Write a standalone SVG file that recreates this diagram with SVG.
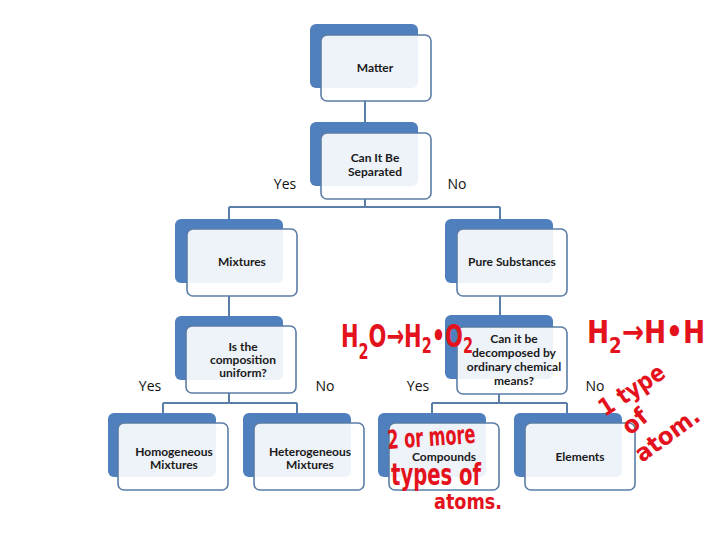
<svg xmlns="http://www.w3.org/2000/svg" width="720" height="540" viewBox="0 0 720 540">
<style>
  .back{fill:#4f7fbd;}
  .front{fill:#ffffff;fill-opacity:0.9;stroke:#5b7da6;stroke-width:1.6;}
  .lbl{font-family:Lato,"Open Sans","Liberation Sans",sans-serif;font-size:12px;font-weight:bold;fill:#1a1a1a;text-anchor:middle;}
  .yn{font-family:"Open Sans",Lato,"Liberation Sans",sans-serif;font-size:14px;fill:#111;text-anchor:middle;}
  .conn{stroke:#5b7ea8;stroke-width:2;fill:none;}
  .hw{font-family:"DejaVu Sans Condensed","DejaVu Sans",sans-serif;font-weight:bold;fill:#e3121c;}
</style>
<rect width="720" height="540" fill="#ffffff"/>

<g id="connectors">
  <path class="conn" d="M365 101 V122"/>
  <path class="conn" d="M365 199 V207 M229 207 H500 M229 207 V219 M500 207 V219"/>
  <path class="conn" d="M229 296 V316"/>
  <path class="conn" d="M500 296 V315"/>
  <path class="conn" d="M229 393 V403 M163 403 H297 M163 403 V413 M297 403 V413"/>
  <path class="conn" d="M499 394 V403 M432 403 H567 M432 403 V413 M567 403 V413"/>
</g>

<g id="matter">
  <rect class="back" x="310" y="24" width="108" height="64" rx="6"/>
  <rect class="front" x="321" y="35" width="110" height="66" rx="6"/>
  <text class="lbl" x="375" y="72">Matter</text>
</g>
<g id="separated">
  <rect class="back" x="310" y="122" width="108" height="64" rx="6"/>
  <rect class="front" x="321" y="133" width="110" height="66" rx="6"/>
  <text class="lbl" x="375" y="162">Can It Be</text>
  <text class="lbl" x="375" y="176">Separated</text>
</g>
<g id="mixtures">
  <rect class="back" x="175" y="219" width="108" height="64" rx="6"/>
  <rect class="front" x="187" y="229" width="110" height="67" rx="6"/>
  <text class="lbl" x="242" y="266">Mixtures</text>
</g>
<g id="pure">
  <rect class="back" x="445" y="219" width="108" height="64" rx="6"/>
  <rect class="front" x="457" y="229" width="110" height="67" rx="6"/>
  <text class="lbl" x="512" y="266">Pure Substances</text>
</g>
<g id="uniform">
  <rect class="back" x="175" y="316" width="108" height="64" rx="6"/>
  <rect class="front" x="186" y="326" width="110" height="67" rx="6"/>
  <text class="lbl" x="243" y="351">Is the</text>
  <text class="lbl" x="243" y="364">composition</text>
  <text class="lbl" x="243" y="377">uniform?</text>
</g>
<g id="decomposed">
  <rect class="back" x="445" y="315" width="108" height="64" rx="6"/>
  <rect class="front" x="457" y="327" width="110" height="67" rx="6"/>
  <text class="lbl" x="514" y="343">Can it be</text>
  <text class="lbl" x="514" y="357">decomposed by</text>
  <text class="lbl" x="514" y="371">ordinary chemical</text>
  <text class="lbl" x="514" y="385">means?</text>
</g>
<g id="homogeneous">
  <rect class="back" x="108" y="413" width="108" height="64" rx="6"/>
  <rect class="front" x="118" y="423" width="110" height="67" rx="6"/>
  <text class="lbl" x="174" y="456">Homogeneous</text>
  <text class="lbl" x="174" y="469">Mixtures</text>
</g>
<g id="heterogeneous">
  <rect class="back" x="243" y="413" width="108" height="64" rx="6"/>
  <rect class="front" x="254" y="423" width="110" height="67" rx="6"/>
  <text class="lbl" x="310" y="456">Heterogeneous</text>
  <text class="lbl" x="310" y="469">Mixtures</text>
</g>
<g id="compounds">
  <rect class="back" x="378" y="413" width="108" height="64" rx="6"/>
  <rect class="front" x="389" y="423" width="110" height="67" rx="6"/>
  <text class="lbl" x="444" y="461">Compounds</text>
</g>
<g id="elements">
  <rect class="back" x="514" y="413" width="108" height="64" rx="6"/>
  <rect class="front" x="525" y="423" width="110" height="67" rx="6"/>
  <text class="lbl" x="580" y="461">Elements</text>
</g>

<g id="branch-labels">
  <text class="yn" x="285" y="189">Yes</text>
  <text class="yn" x="457" y="189">No</text>
  <text class="yn" x="150" y="391">Yes</text>
  <text class="yn" x="325" y="391">No</text>
  <text class="yn" x="418" y="391">Yes</text>
  <text class="yn" x="595" y="391">No</text>
</g>

<g id="annotations">
  <text class="hw" x="341" y="347" font-size="32" textLength="132" lengthAdjust="spacingAndGlyphs">H<tspan font-size="22" dy="12">2</tspan><tspan dy="-12">O→H</tspan><tspan font-size="22" dy="6">2</tspan><tspan dy="-6">•O</tspan><tspan font-size="22" dy="6">2</tspan></text>
  <text class="hw" x="587" y="343" font-size="32" textLength="118" lengthAdjust="spacingAndGlyphs">H<tspan font-size="22" dy="10">2</tspan><tspan dy="-10">→H•H</tspan></text>
  <text class="hw" x="388" y="449" font-size="26" textLength="88" lengthAdjust="spacingAndGlyphs" transform="rotate(-4 388 449)">2 or more</text>
  <text class="hw" x="391" y="485" font-size="30" textLength="90" lengthAdjust="spacingAndGlyphs">types of</text>
  <text class="hw" x="434" y="509" font-size="22" textLength="68" lengthAdjust="spacingAndGlyphs">atoms.</text>
  <text class="hw" x="605" y="417" font-size="24" textLength="74" lengthAdjust="spacingAndGlyphs" transform="rotate(-33 605 417)">1 type</text>
  <text class="hw" x="630" y="436" font-size="24" textLength="26" lengthAdjust="spacingAndGlyphs" transform="rotate(-40 630 436)">of</text>
  <text class="hw" x="642" y="463" font-size="24" textLength="74" lengthAdjust="spacingAndGlyphs" transform="rotate(-36 642 463)">atom.</text>
</g>
</svg>
